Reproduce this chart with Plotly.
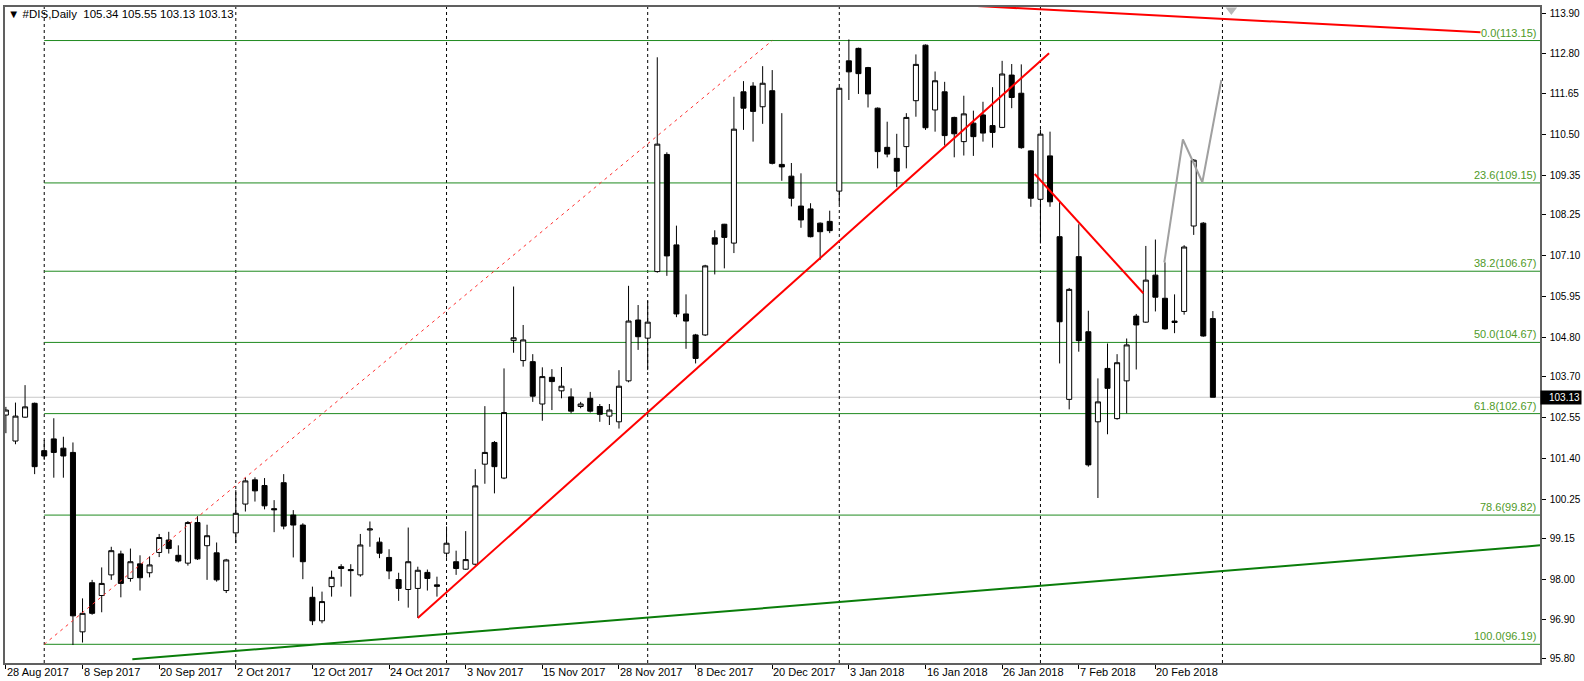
import plotly.graph_objects as go

# ---------------- data ----------------
opens = [102.63, 101.90, 102.57, 102.96, 101.63, 101.96, 101.70, 101.58, 96.54, 97.92,
         97.56, 98.14, 98.73, 98.04, 98.45, 98.20, 98.77, 99.12, 98.69, 98.47,
         99.61, 98.96, 98.76, 97.70, 99.32, 100.13, 100.81, 100.65, 100.00, 100.73,
         99.82, 99.54, 97.51, 96.85, 97.81, 98.37, 98.29, 98.14, 99.40, 99.06,
         98.63, 98.01, 97.73, 97.76, 98.21, 97.86, 98.75, 98.51, 98.30, 98.44,
         101.25, 101.86, 100.86, 104.72, 104.16, 104.13, 102.94, 103.69, 103.31, 103.14,
         102.87, 103.10, 102.87, 102.60, 102.44, 103.59, 105.30, 104.79, 106.66, 109.95,
         107.41, 105.47, 104.88, 104.88, 107.61, 107.99, 107.46, 111.71, 111.87, 111.29,
         111.74, 109.67, 109.34, 108.50, 108.42, 108.02, 108.07, 108.92, 112.58, 112.93,
         112.39, 111.25, 110.15, 109.84, 110.17, 111.46, 113.02, 111.20, 111.71, 110.99,
         110.31, 110.83, 111.06, 110.76, 110.71, 112.18, 111.67, 110.05, 108.69, 109.91,
         107.64, 103.07, 107.08, 104.97, 102.44, 103.94, 102.53, 103.59, 105.41, 105.24,
         106.56, 105.91, 105.27, 105.54, 107.94, 108.02, 105.34]
highs = [102.86, 102.98, 103.47, 102.98, 101.93, 102.54, 102.02, 101.86, 97.48, 98.00,
         98.35, 98.93, 98.82, 98.88, 98.69, 98.66, 99.29, 99.35, 98.97, 99.65,
         99.79, 99.55, 99.05, 98.59, 100.52, 100.87, 100.88, 100.86, 100.24, 100.97,
         99.96, 99.59, 97.81, 97.67, 98.26, 98.44, 98.44, 99.29, 99.64, 99.19,
         98.86, 98.20, 99.47, 98.37, 98.29, 98.09, 99.50, 98.82, 99.37, 101.11,
         102.88, 101.90, 103.94, 106.24, 105.16, 104.34, 103.97, 103.92, 103.98, 103.38,
         103.00, 103.28, 102.94, 102.94, 103.89, 106.26, 105.72, 105.84, 112.68, 110.01,
         107.95, 106.02, 104.91, 106.85, 107.82, 108.00, 111.57, 112.01, 111.98, 112.43,
         112.32, 111.11, 109.71, 109.42, 108.58, 108.04, 108.37, 111.84, 113.18, 112.95,
         112.41, 111.27, 110.87, 110.53, 111.11, 112.76, 113.04, 112.28, 111.99, 111.01,
         111.60, 111.18, 111.43, 111.84, 112.58, 112.49, 112.48, 110.07, 110.65, 110.59,
         108.62, 106.20, 107.99, 105.56, 103.66, 104.64, 104.34, 104.78, 105.47, 107.38,
         107.56, 106.92, 106.02, 107.40, 109.82, 108.05, 105.55]
lows = [102.12, 101.81, 102.55, 100.97, 101.37, 100.87, 100.87, 96.17, 96.24, 97.02,
        97.09, 98.00, 97.51, 97.95, 97.70, 98.07, 98.64, 98.74, 98.49, 98.40,
        98.56, 98.00, 97.95, 97.63, 99.03, 99.92, 100.20, 99.98, 99.34, 99.42,
        98.63, 98.02, 96.73, 96.78, 97.53, 97.81, 97.53, 98.09, 98.93, 98.61,
        98.02, 97.41, 97.22, 96.93, 97.70, 97.53, 98.62, 98.14, 98.28, 98.40,
        100.70, 100.43, 100.83, 104.38, 103.99, 103.00, 102.47, 102.77, 103.10, 102.68,
        102.82, 102.70, 102.44, 102.35, 102.25, 103.55, 104.46, 103.89, 106.63, 106.54,
        105.38, 104.49, 104.08, 104.85, 106.58, 106.75, 107.18, 110.64, 110.31, 110.81,
        109.67, 109.21, 108.49, 107.89, 107.62, 106.99, 107.74, 108.55, 111.48, 111.65,
        111.27, 109.56, 109.87, 109.03, 109.56, 111.01, 110.64, 110.59, 110.20, 109.87,
        109.92, 109.91, 110.31, 110.14, 110.69, 111.25, 110.11, 108.48, 107.45, 108.48,
        104.08, 102.79, 104.41, 101.18, 100.30, 102.09, 102.50, 102.68, 103.91, 105.22,
        105.54, 105.03, 104.93, 105.45, 107.69, 104.83, 103.13]
closes = [102.77, 102.60, 102.86, 101.18, 101.48, 101.58, 101.48, 96.99, 97.06, 97.06,
          97.90, 98.82, 97.90, 98.51, 98.06, 98.42, 99.19, 98.88, 98.53, 99.61,
          98.59, 99.24, 98.00, 98.56, 99.87, 100.78, 100.50, 100.08, 99.97, 99.51,
          99.54, 98.51, 96.85, 97.39, 98.07, 98.32, 98.26, 98.98, 99.43, 98.75,
          98.25, 97.76, 98.51, 98.27, 98.04, 97.82, 99.03, 98.32, 98.57, 100.64,
          101.58, 101.18, 102.70, 104.80, 104.74, 103.16, 103.71, 103.57, 103.44, 102.74,
          102.94, 102.74, 102.65, 102.77, 103.44, 105.27, 104.83, 105.24, 110.24, 107.10,
          105.47, 105.27, 104.22, 106.82, 107.43, 107.62, 110.66, 111.25, 111.16, 111.95,
          109.70, 109.60, 108.72, 108.11, 107.64, 107.78, 107.81, 111.81, 112.27, 112.22,
          111.65, 110.03, 109.96, 109.48, 110.99, 112.48, 110.70, 112.02, 110.48, 110.53,
          111.09, 110.45, 110.55, 110.57, 112.21, 111.55, 110.14, 108.72, 110.52, 108.62,
          105.25, 106.16, 104.72, 101.23, 103.00, 103.38, 104.10, 104.60, 105.16, 106.42,
          105.94, 105.05, 105.23, 107.35, 109.79, 104.85, 103.13]

date_labels = ["28 Aug 2017", "8 Sep 2017", "20 Sep 2017", "2 Oct 2017", "12 Oct 2017",
               "24 Oct 2017", "3 Nov 2017", "15 Nov 2017", "28 Nov 2017", "8 Dec 2017",
               "20 Dec 2017", "3 Jan 2018", "16 Jan 2018", "26 Jan 2018", "7 Feb 2018",
               "20 Feb 2018"]
date_label_bars = [0, 8, 16, 24, 32, 40, 48, 56, 64, 72, 80, 88, 96, 104, 112, 120]
month_start_bars = [4, 24, 46, 67, 87, 108, 127]

price_ticks = [113.90, 112.80, 111.65, 110.50, 109.35, 108.25, 107.10, 105.95, 104.80,
               103.70, 102.55, 101.40, 100.25, 99.15, 98.00, 96.90, 95.80]

fib_pcts = [0.0, 23.6, 38.2, 50.0, 61.8, 78.6, 100.0]
fib_prices = [113.15, 109.15, 106.67, 104.67, 102.67, 99.82, 96.19]
fib_start_bar = 4

fib_line_x = [4, 80]
fib_line_y = [96.19, 113.15]
up_trend_x = [43, 108.9]
up_trend_y = [96.93, 112.79]
down_trend_x = [107.4, 118.74]
down_trend_y = [109.40, 106.05]
top_trend_x = [95, 153.94]
top_trend_y = [114.21, 113.38]
green_trend_x = [13.2, 160.15]
green_trend_y = [95.77, 98.97]
zigzag_x = [120.93, 122.87, 124.9, 126.89]
zigzag_y = [106.92, 110.37, 109.17, 112.04]

symbol = "#DIS,Daily"
last_price = 103.13

# ---------------- figure ----------------
X_RANGE = [-0.094, 160.15]
Y_RANGE = [95.665, 114.092]
FONT = "Liberation Sans, Arial, sans-serif"

bars = list(range(len(opens)))
fig = go.Figure()

fig.add_trace(go.Candlestick(
    x=bars, open=opens, high=highs, low=lows, close=closes,
    increasing=dict(line=dict(color="black", width=1), fillcolor="white"),
    decreasing=dict(line=dict(color="black", width=1), fillcolor="black"),
    whiskerwidth=0, hoverinfo="skip", showlegend=False,
))

# current price line
fig.add_shape(type="line", xref="paper", x0=0, x1=1, yref="y", y0=last_price, y1=last_price,
              line=dict(color="#c8c8c8", width=1), layer="below")

# month separators
for b in month_start_bars:
    fig.add_shape(type="line", xref="x", x0=b, x1=b, yref="paper", y0=0, y1=1,
                  line=dict(color="black", width=1, dash="3px,3px"), layer="below")

# fibonacci levels
for pct, lvl in zip(fib_pcts, fib_prices):
    fig.add_shape(type="line", xref="x", x0=fib_start_bar, x1=X_RANGE[1], yref="y", y0=lvl, y1=lvl,
                  line=dict(color="#1f8a1f", width=1), layer="below")
    fig.add_annotation(xref="paper", x=1, xanchor="right", xshift=-2, yref="y", y=lvl,
                       yanchor="bottom", yshift=0, text=f"{pct:.1f}({lvl:.2f})",
                       showarrow=False, font=dict(family=FONT, size=11, color="#4f9a28"))

def add_line(xs, ys, color, width, dash="solid"):
    fig.add_trace(go.Scatter(x=xs, y=ys, mode="lines", line=dict(color=color, width=width, dash=dash),
                             hoverinfo="skip", showlegend=False))

add_line(fib_line_x, fib_line_y, "#ff3030", 1, "3px,4px")
add_line(green_trend_x, green_trend_y, "#0a7d0a", 2)
add_line(up_trend_x, up_trend_y, "#ff0000", 2)
add_line(down_trend_x, down_trend_y, "#ff0000", 2)
add_line(top_trend_x, top_trend_y, "#ff0000", 2)
add_line(zigzag_x, zigzag_y, "#a0a0a0", 2)

# chart-shift marker
fig.add_trace(go.Scatter(x=[127.93], y=[114.01], mode="markers",
                         marker=dict(symbol="triangle-down", size=10, color="#b8b8b8"),
                         cliponaxis=False, hoverinfo="skip", showlegend=False))

# date labels (left aligned at the tick, MT4 style)
for b, lab in zip(date_label_bars, date_labels):
    fig.add_annotation(xref="x", x=b, xanchor="left", xshift=-1, yref="paper", y=0,
                       yanchor="top", yshift=-1, text=lab, showarrow=False,
                       font=dict(family=FONT, size=11, color="black"))

# title
fig.add_annotation(xref="paper", x=0, xanchor="left", xshift=1, yref="paper", y=1,
                   yanchor="top", yshift=1,
                   text="▼ " + symbol + "\u00a0\u00a0" + " ".join(f"{v:.2f}" for v in
                        [opens[-1], highs[-1], lows[-1], closes[-1]]),
                   showarrow=False, font=dict(family=FONT, size=11.5, color="black"))

# price tag
fig.add_annotation(xref="paper", x=1, xanchor="left", xshift=0, yref="y", y=last_price,
                   text=f"{last_price:.2f}", showarrow=False, bgcolor="black", borderpad=1,
                   width=38, align="right",
                   font=dict(family=FONT, size=10, color="white"))

fig.update_layout(
    width=1584, height=681,
    margin=dict(l=3, r=41, t=7, b=18, pad=0),
    paper_bgcolor="white", plot_bgcolor="white",
    font=dict(family=FONT, size=10, color="black"),
    showlegend=False,
    hovermode=False,
    boxgap=0.25,
)
fig.update_xaxes(
    range=X_RANGE, showgrid=False, zeroline=False, rangeslider=dict(visible=False),
    tickvals=date_label_bars, ticks="outside", ticklen=4, tickcolor="black",
    showticklabels=False, showline=True, mirror=True, linecolor="#606060", linewidth=1.5,
)
fig.update_yaxes(
    range=Y_RANGE, side="right", showgrid=False, zeroline=False,
    tickvals=price_ticks, ticktext=[f"{v:.2f}" for v in price_ticks],
    ticks="outside", ticklen=4, tickcolor="black", ticklabelstandoff=2,
    tickfont=dict(family=FONT, size=10, color="black"),
    showline=True, mirror=True, linecolor="#606060", linewidth=1.5,
)

fig.write_html("out.html", config={"displayModeBar": False},
               post_script="document.body.style.margin='0';document.body.style.overflow='hidden';")
